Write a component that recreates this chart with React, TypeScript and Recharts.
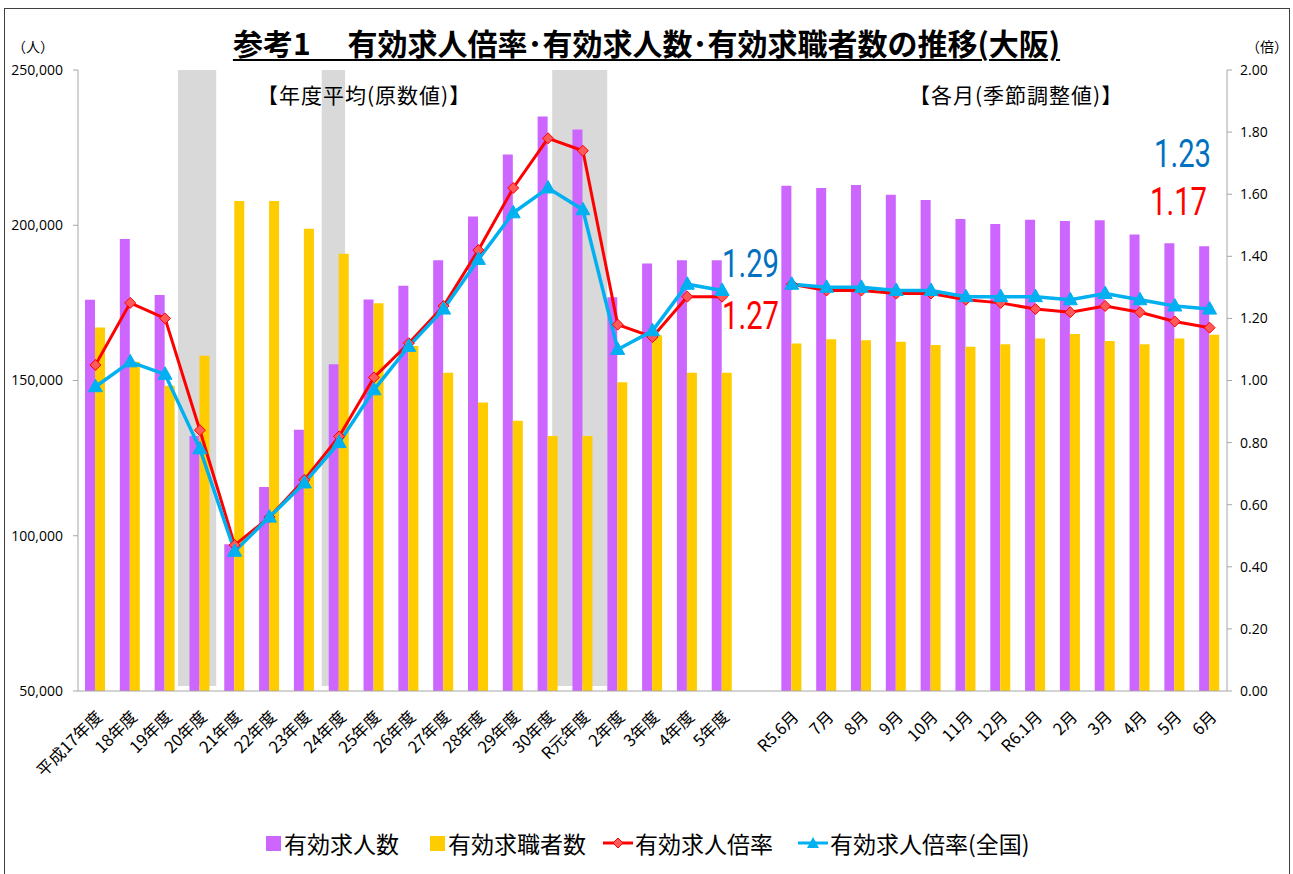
import React from 'react';
import { ComposedChart, Bar, Line, XAxis, YAxis, ReferenceArea } from 'recharts';

// ---- categories ----
const yearLabels = ['平成17年度', '18年度', '19年度', '20年度', '21年度', '22年度', '23年度', '24年度', '25年度', '26年度', '27年度', '28年度', '29年度', '30年度', 'R元年度', '2年度', '3年度', '4年度', '5年度'];
const gapLabels = [' '];
const monthLabels = ['R5.6月', '7月', '8月', '9月', '10月', '11月', '12月', 'R6.1月', '2月', '3月', '4月', '5月', '6月'];

// ---- 有効求人数 (人) ----
const openingsYear = [176000, 195600, 177500, 132100, 97300, 115700, 134100, 155200, 176100, 180500, 188700, 202800, 222800, 235000, 230800, 176800, 187700, 188700, 188700];
const openingsMonth = [212700, 212000, 213000, 209800, 208100, 202000, 200400, 201800, 201400, 201600, 197000, 194200, 193200];

// ---- 有効求職者数 (人) ----
const seekersYear = [167100, 156000, 148300, 158000, 207800, 207800, 198900, 190800, 174900, 161100, 152500, 142900, 137000, 132100, 132100, 149400, 164600, 152500, 152500];
const seekersMonth = [161900, 163300, 163000, 162500, 161400, 160900, 161700, 163500, 165000, 162700, 161700, 163500, 164700];

// ---- 有効求人倍率 (大阪) ----
const ratioOsakaYear = [1.05, 1.25, 1.2, 0.84, 0.47, 0.56, 0.68, 0.82, 1.01, 1.12, 1.24, 1.42, 1.62, 1.78, 1.74, 1.18, 1.14, 1.27, 1.27];
const ratioOsakaMonth = [1.31, 1.29, 1.29, 1.28, 1.28, 1.26, 1.25, 1.23, 1.22, 1.24, 1.22, 1.19, 1.17];

// ---- 有効求人倍率 (全国) ----
const ratioJapanYear = [0.98, 1.06, 1.02, 0.78, 0.45, 0.56, 0.67, 0.8, 0.97, 1.11, 1.23, 1.39, 1.54, 1.62, 1.55, 1.1, 1.16, 1.31, 1.29];
const ratioJapanMonth = [1.31, 1.3, 1.3, 1.29, 1.29, 1.27, 1.27, 1.27, 1.26, 1.28, 1.26, 1.24, 1.23];

// ---- 景気後退期 (category units) ----
const recessionStarts = [2.87, 7.0, 13.62];
const recessionEnds = [3.97, 7.67, 15.2];

// ---- axis ticks ----
const leftTicks = [50000, 100000, 150000, 200000, 250000];
const rightTicks = [0, 0.2, 0.4, 0.6, 0.8, 1.0, 1.2, 1.4, 1.6, 1.8, 2.0];

const seriesNames = ['有効求人数', '有効求職者数', '有効求人倍率', '有効求人倍率(全国)'];

const labels = [...yearLabels, ...gapLabels, ...monthLabels];
const gapNulls = gapLabels.map(() => null);
const openings = [...openingsYear, ...gapNulls, ...openingsMonth];
const seekers = [...seekersYear, ...gapNulls, ...seekersMonth];
const ratioOsaka = [...ratioOsakaYear, ...gapNulls, ...ratioOsakaMonth];
const ratioJapan = [...ratioJapanYear, ...gapNulls, ...ratioJapanMonth];

const data = labels.map((label, i) => ({
  label,
  pos: i + 0.5,
  openings: openings[i],
  seekers: seekers[i],
  ratioOsaka: ratioOsaka[i],
  ratioJapan: ratioJapan[i],
}));

const boundaryTicks = labels.map((_, i) => i).concat([labels.length]);

const PURPLE = '#CC66FF';
const YELLOW = '#FFCC00';
const RED = '#FF0000';
const CYAN = '#00B0F0';
const AXIS = '#A6A6A6';
const JP = "'Noto Sans CJK JP', 'Noto Sans', sans-serif";
const NUM = "'Open Sans', 'Liberation Sans', sans-serif";

const Diamond = (props: any) => {
  const { cx, cy, index } = props;
  if (cx == null || cy == null || isNaN(cy)) return <g key={`dm-${index}`} />;
  const r = 5.5;
  return (
    <polygon
      key={`dm-${index}`}
      points={`${cx},${cy - r} ${cx + r},${cy} ${cx},${cy + r} ${cx - r},${cy}`}
      fill="#FF5A5A"
      stroke={RED}
      strokeWidth={1}
    />
  );
};

const Triangle = (props: any) => {
  const { cx, cy, index } = props;
  if (cx == null || cy == null || isNaN(cy)) return <g key={`tr-${index}`} />;
  const w = 7;
  return (
    <polygon
      key={`tr-${index}`}
      points={`${cx},${cy - 7.5} ${cx + w},${cy + 5} ${cx - w},${cy + 5}`}
      fill={CYAN}
      stroke={CYAN}
      strokeWidth={1}
    />
  );
};

const XTick = (props: any) => {
  const { x, y, payload } = props;
  const ax = x + 8;
  const ay = y + 27;
  return (
    <text
      x={ax}
      y={ay}
      transform={`rotate(-45 ${ax} ${ay})`}
      textAnchor="end"
      fontSize={16.5}
      fontFamily={JP}
      fill="#000"
    >
      {payload.value}
    </text>
  );
};

const LegendIcon = ({ kind, color }: { kind: string; color: string }) => {
  if (kind === 'square') {
    return <span style={{ display: 'inline-block', width: 15, height: 15, background: color, marginRight: 3 }} />;
  }
  return (
    <svg width={30} height={16} style={{ marginRight: 2 }}>
      <line x1={0} y1={8} x2={30} y2={8} stroke={color} strokeWidth={3} />
      {kind === 'diamond' ? (
        <polygon points="15,3 20,8 15,13 10,8" fill="#FF5A5A" stroke={RED} strokeWidth={1} />
      ) : (
        <polygon points="15,2 21,13 9,13" fill={CYAN} />
      )}
    </svg>
  );
};

export default function App() {
  const lastYearOsaka = ratioOsakaYear[ratioOsakaYear.length - 1];
  const lastYearJapan = ratioJapanYear[ratioJapanYear.length - 1];
  const lastMonthOsaka = ratioOsakaMonth[ratioOsakaMonth.length - 1];
  const lastMonthJapan = ratioJapanMonth[ratioJapanMonth.length - 1];

  const legend = [
    { name: seriesNames[0], kind: 'square', color: PURPLE, left: 266 },
    { name: seriesNames[1], kind: 'square', color: YELLOW, left: 430 },
    { name: seriesNames[2], kind: 'diamond', color: RED, left: 603 },
    { name: seriesNames[3], kind: 'triangle', color: CYAN, left: 798 },
  ];

  const annotations = [
    { text: lastYearJapan.toFixed(2), color: '#0070C0', x: 722, y: 277 },
    { text: lastYearOsaka.toFixed(2), color: RED, x: 722, y: 329 },
    { text: lastMonthJapan.toFixed(2), color: '#0070C0', x: 1154, y: 167 },
    { text: lastMonthOsaka.toFixed(2), color: RED, x: 1150, y: 215 },
  ];

  return (
    <div style={{ position: 'absolute', left: 0, top: 0, width: 1293, height: 874, background: '#fff', overflow: 'hidden' }}>
      <div style={{ position: 'absolute', left: 4, top: 8, width: 1286, height: 880, border: '1.5px solid #404040', boxSizing: 'border-box' }} />

      <div style={{ position: 'absolute', left: 0, top: 0 }}>
        <ComposedChart width={1293} height={874} data={data} margin={{ top: 70, right: 10, bottom: 73, left: 10 }} barGap={0}>
          <XAxis
            xAxisId="num"
            type="number"
            dataKey="pos"
            domain={[0, labels.length]}
            ticks={boundaryTicks}
            allowDataOverflow
            height={0}
            tick={false}
            axisLine={false}
            tickLine={{ stroke: AXIS }}
            tickSize={6}
          />
          <XAxis
            xAxisId="cat"
            dataKey="label"
            interval={0}
            height={110}
            tickLine={false}
            tickSize={0}
            tickMargin={0}
            axisLine={{ stroke: AXIS }}
            tick={<XTick />}
          />
          <YAxis
            yAxisId="left"
            domain={[50000, 250000]}
            ticks={leftTicks}
            width={68}
            tickSize={5}
            tickMargin={10}
            axisLine={{ stroke: AXIS }}
            tickLine={{ stroke: AXIS }}
            tick={{ fontSize: 14, fill: '#000', fontFamily: NUM }}
            tickFormatter={(v: number) => v.toLocaleString('en-US')}
            allowDataOverflow
          />
          <YAxis
            yAxisId="right"
            orientation="right"
            domain={[0, 2]}
            ticks={rightTicks}
            width={56}
            tickSize={5}
            tickMargin={8}
            axisLine={{ stroke: AXIS }}
            tickLine={{ stroke: AXIS }}
            tick={{ fontSize: 14, fill: '#000', fontFamily: NUM }}
            tickFormatter={(v: number) => v.toFixed(2)}
          />
          {recessionStarts.map((s, i) => (
            <ReferenceArea
              key={`rec-${i}`}
              xAxisId="num"
              yAxisId="left"
              x1={s}
              x2={recessionEnds[i]}
              y1={51600}
              y2={250000}
              fill="#D9D9D9"
              fillOpacity={1}
              stroke="none"
              ifOverflow="hidden"
            />
          ))}
          <Bar xAxisId="cat" yAxisId="left" dataKey="openings" name={seriesNames[0]} fill={PURPLE} barSize={10} isAnimationActive={false} />
          <Bar xAxisId="cat" yAxisId="left" dataKey="seekers" name={seriesNames[1]} fill={YELLOW} barSize={10} isAnimationActive={false} />
          <Line
            xAxisId="cat"
            yAxisId="right"
            dataKey="ratioOsaka"
            name={seriesNames[2]}
            stroke={RED}
            strokeWidth={3}
            dot={Diamond}
            activeDot={false}
            isAnimationActive={false}
          />
          <Line
            xAxisId="cat"
            yAxisId="right"
            dataKey="ratioJapan"
            name={seriesNames[3]}
            stroke={CYAN}
            strokeWidth={3.5}
            dot={Triangle}
            activeDot={false}
            isAnimationActive={false}
          />
        </ComposedChart>
      </div>

      {/* title */}
      <div
        style={{
          position: 'absolute',
          left: 0,
          width: 1293,
          top: 24,
          textAlign: 'center',
          fontFamily: JP,
          fontWeight: 700,
          fontSize: 30,
          lineHeight: '36px',
          color: '#000',
          whiteSpace: 'nowrap',
        }}
      >
        <span style={{ textDecoration: 'underline', textDecorationThickness: 2, textUnderlineOffset: 4 }}>
          参考1　 有効求人倍率･有効求人数･有効求職者数の推移(大阪)
        </span>
      </div>

      {/* sub titles */}
      <div style={{ position: 'absolute', left: 257, top: 80, fontFamily: JP, fontSize: 21, letterSpacing: 1, lineHeight: '28px', whiteSpace: 'nowrap' }}>
        【年度平均(原数値)】
      </div>
      <div style={{ position: 'absolute', left: 909, top: 80, fontFamily: JP, fontSize: 21, letterSpacing: 1, lineHeight: '28px', whiteSpace: 'nowrap' }}>
        【各月(季節調整値)】
      </div>

      {/* unit labels */}
      <div style={{ position: 'absolute', left: 12, top: 37, fontFamily: JP, fontSize: 14, lineHeight: '18px', whiteSpace: 'nowrap' }}>（人）</div>
      <div style={{ position: 'absolute', left: 1246, top: 37, fontFamily: JP, fontSize: 14, lineHeight: '18px', whiteSpace: 'nowrap' }}>（倍）</div>

      {/* annotations */}
      <svg width={1293} height={874} style={{ position: 'absolute', left: 0, top: 0, pointerEvents: 'none' }}>
        {annotations.map((a, i) => (
          <text
            key={i}
            x={0}
            y={0}
            transform={`translate(${a.x} ${a.y}) scale(0.77 1)`}
            fontFamily="Roboto, 'Noto Sans', sans-serif"
            fontSize={38}
            fill={a.color}
          >
            {a.text}
          </text>
        ))}
      </svg>

      {/* legend */}
      {legend.map((l) => (
        <div
          key={l.name}
          style={{
            position: 'absolute',
            left: l.left,
            top: 829,
            height: 28,
            display: 'flex',
            alignItems: 'center',
            fontFamily: JP,
            fontSize: 23,
            whiteSpace: 'nowrap',
            color: '#000',
          }}
        >
          <LegendIcon kind={l.kind} color={l.color} />
          <span>{l.name}</span>
        </div>
      ))}
    </div>
  );
}
